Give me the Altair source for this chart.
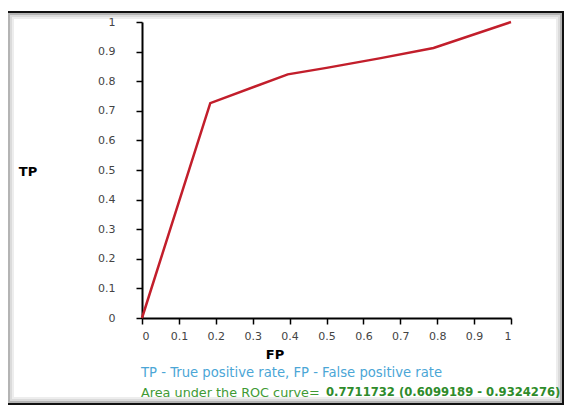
import altair as alt
import pandas as pd

# ---- data ----
FP = [0.0, 0.185, 0.395, 0.5, 0.647, 0.79, 1.0]
TP = [0.0, 0.726, 0.823, 0.845, 0.878, 0.912, 1.0]
TICKS = [0, 0.1, 0.2, 0.3, 0.4, 0.5, 0.6, 0.7, 0.8, 0.9, 1]
Y_TITLE = "TP"
X_TITLE = "FP"
NOTE_1 = "TP - True positive rate, FP - False positive rate"
NOTE_2_PLAIN = "Area under the ROC curve= "
NOTE_2_BOLD = "0.7711732 (0.6099189 - 0.9324276)"

FONT = "DejaVu Sans"
W, H = 369, 296

df = pd.DataFrame({"FP": FP, "TP": TP})
one = pd.DataFrame({"k": [0]})

line = alt.Chart(df).mark_line(color="#C21E2B", strokeWidth=2.5).encode(
    x=alt.X("FP:Q", scale=alt.Scale(domain=[0, 1], nice=False),
            axis=alt.Axis(values=TICKS, format="~g", title=None,
                          labelPadding=6)),
    y=alt.Y("TP:Q", scale=alt.Scale(domain=[0, 1], nice=False),
            axis=alt.Axis(values=TICKS, format="~g", title=None,
                          labelPadding=21)),
)


def txt(s, x, y, size=13.2, color="black", weight="normal", align="left"):
    return alt.Chart(one).mark_text(
        text=s, font=FONT, fontSize=size, color=color, fontWeight=weight,
        align=align, baseline="middle",
    ).encode(x=alt.value(x), y=alt.value(y))


def frame(x, x2, y, y2, color, width, opacity=1.0):
    return alt.Chart(one).mark_rect(
        filled=False, stroke=color, strokeWidth=width, strokeOpacity=opacity
    ).encode(x=alt.value(x), x2=alt.value(x2), y=alt.value(y), y2=alt.value(y2))


frames = [
    frame(-129, 415, -4, 376, "#888888", 2, 0.15),
    frame(-131, 417, -6, 378, "#888888", 2, 0.3),
    frame(-133, 419, -8, 380, "#777777", 2, 0.55),
    frame(-135, 421, -10, 382, "#111111", 2),
]

texts = [
    txt(Y_TITLE, -114, 150, size=13, weight="bold", align="center"),
    txt(X_TITLE, 133, 333, size=13, weight="bold", align="center"),
    txt(NOTE_1, -1, 351, color="#4BA6D6"),
    txt(NOTE_2_PLAIN, -1, 371, size=12.8, color="#3E9A34"),
    txt(NOTE_2_BOLD, 184, 371, size=11.6, color="#2E8B2A", weight="bold"),
]

chart = alt.layer(*frames, line, *texts).properties(
    width=W, height=H,
    autosize=alt.AutoSizeParams(type="none"),
    padding={"left": 134, "top": 14, "right": 53, "bottom": 87},
    background="white",
).configure_view(stroke=None).configure_axis(
    grid=False,
    domainColor="black", domainWidth=2,
    tickColor="black", tickWidth=1.5, tickSize=6,
    labelFont=FONT, labelFontSize=11, labelColor="#444444",
)

chart.save("out.html", embed_options={"renderer": "svg", "actions": False})
